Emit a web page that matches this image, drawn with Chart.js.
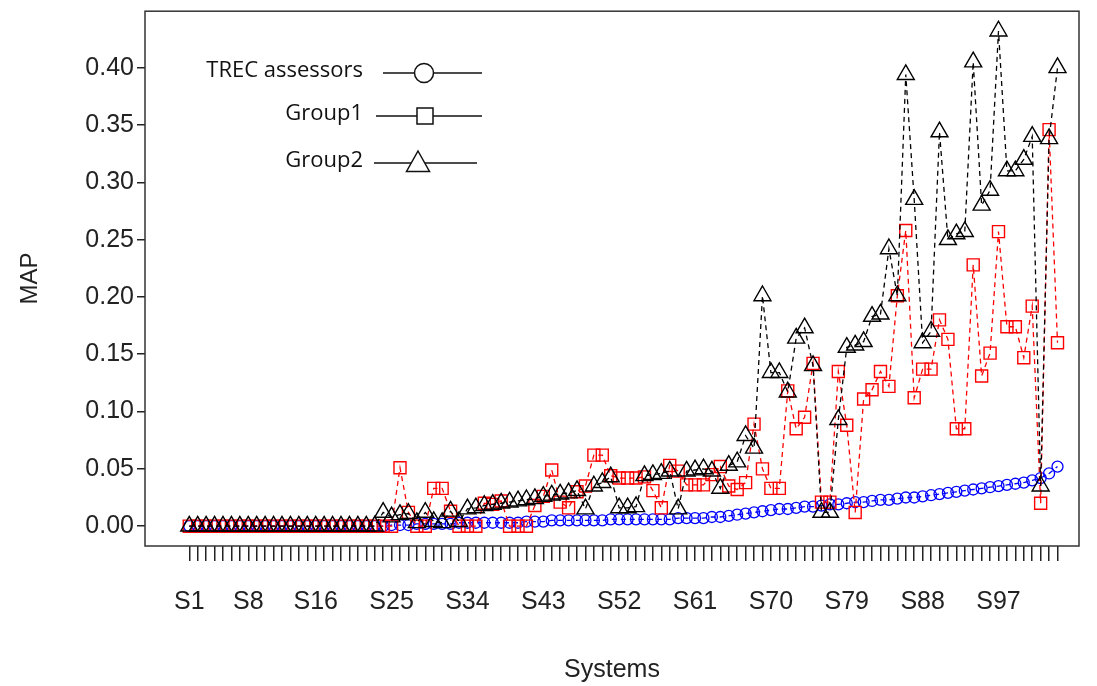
<!DOCTYPE html>
<html>
<head>
<meta charset="utf-8">
<script src="https://cdn.jsdelivr.net/npm/chart.js@4.4.1/dist/chart.umd.min.js"></script>
<style>
  body { margin: 0; background: #fff; }
  #wrap { width: 1097px; height: 686px; }
</style>
</head>
<body>
<div id="wrap"><canvas id="grafico"></canvas></div>
<script>
// --- DADOS ---
const sistemas = [];
for (let i = 1; i <= 104; i++) sistemas.push('S' + i);

// rótulos que aparecem no eixo x (os outros ficam só com o traço)
const rotulosX = ['S1', 'S8', 'S16', 'S25', 'S34', 'S43', 'S52', 'S61', 'S70', 'S79', 'S88', 'S97'];
const ticksY = [0, 0.05, 0.10, 0.15, 0.20, 0.25, 0.30, 0.35, 0.40];

const nomesSeries = ['TREC assessors', 'Group1', 'Group2'];

const trec = [
  0, 0, 0, 0, 0, 0, 0, 0, 0, 0, 0, 0, 0, 0, 0, 0, 0, 0, 0, 0, 0, 0, 0, 0,
  0.001, 0.001, 0.001, 0.002, 0.002, 0.002, 0.002, 0.002, 0.003,
  0.003, 0.003, 0.003, 0.003, 0.003, 0.003, 0.003, 0.004, 0.004, 0.004,
  0.005, 0.005, 0.005, 0.005, 0.005, 0.005, 0.005, 0.006, 0.006,
  0.006, 0.006, 0.006, 0.006, 0.006, 0.006, 0.007, 0.007,
  0.007, 0.007, 0.008, 0.008, 0.009, 0.010, 0.011, 0.012, 0.013, 0.014,
  0.015, 0.015, 0.016, 0.017, 0.017, 0.018, 0.019, 0.019, 0.020, 0.021,
  0.021, 0.022, 0.023, 0.023, 0.024, 0.025, 0.025, 0.026, 0.027, 0.028,
  0.029, 0.030, 0.031, 0.032, 0.033, 0.034, 0.035, 0.036, 0.037, 0.038,
  0.040, 0.042, 0.046, 0.052
];

const grupo1 = [
  0, 0, 0, 0, 0, 0, 0, 0, 0, 0, 0, 0, 0, 0, 0, 0, 0, 0, 0, 0, 0, 0, 0, 0,
  0, 0.051, 0.012, 0, 0, 0.033, 0.033, 0.013, 0,
  0, 0, 0.020, 0.019, 0.022, 0, 0, 0, 0.018, 0.026,
  0.049, 0.021, 0.016, 0.030, 0.035, 0.062, 0.062, 0.044, 0.042,
  0.042, 0.042, 0.043, 0.031, 0.016, 0.053, 0.048, 0.036,
  0.036, 0.036, 0.045, 0.052, 0.035, 0.032, 0.038, 0.089, 0.050, 0.033,
  0.033, 0.118, 0.085, 0.095, 0.142, 0.021, 0.021, 0.135, 0.088, 0.012,
  0.111, 0.119, 0.135, 0.122, 0.201, 0.258, 0.112, 0.137, 0.137, 0.180,
  0.163, 0.085, 0.085, 0.228, 0.131, 0.151, 0.257, 0.174, 0.174, 0.147,
  0.192, 0.020, 0.346, 0.160
];

const grupo2 = [
  0, 0, 0, 0, 0, 0, 0, 0, 0, 0, 0, 0, 0, 0, 0, 0, 0, 0, 0, 0, 0, 0, 0,
  0.012, 0.008, 0.010, 0.011, 0.003, 0.012, 0.004, 0.003, 0.013, 0.004,
  0.015, 0.016, 0.018, 0.019, 0.020, 0.021, 0.022, 0.023, 0.024, 0.026,
  0.027, 0.028, 0.029, 0.031, 0.015, 0.035, 0.038, 0.043, 0.016,
  0.016, 0.017, 0.044, 0.045, 0.046, 0.048, 0.015, 0.048,
  0.049, 0.050, 0.048, 0.033, 0.053, 0.056, 0.079, 0.068, 0.201, 0.134,
  0.134, 0.117, 0.164, 0.173, 0.140, 0.012, 0.012, 0.093, 0.156, 0.158,
  0.161, 0.183, 0.185, 0.242, 0.201, 0.394, 0.285, 0.160, 0.170, 0.344,
  0.250, 0.255, 0.257, 0.405, 0.280, 0.293, 0.432, 0.310, 0.310, 0.320,
  0.340, 0.035, 0.338, 0.400
];

// --- ESTILO ---
const FONTE_EIXO = 'Liberation Sans, Arial, sans-serif';
const FONTE_LEGENDA = '"Open Sans", Lato, sans-serif';
const TRACO = [5, 4];

function pontos(valores) {
  return valores.map((v, i) => ({ x: i + 1, y: v }));
}

// caixa em volta da área do gráfico (estilo R)
const caixaPlot = {
  id: 'caixaPlot',
  afterDraw(chart) {
    const { ctx, chartArea: a } = chart;
    ctx.save();
    ctx.strokeStyle = '#333';
    ctx.lineWidth = 1.5;
    ctx.strokeRect(a.left, a.top, a.right - a.left, a.bottom - a.top);
    ctx.restore();
  }
};

// legenda desenhada dentro do gráfico, no canto superior esquerdo
const legendaR = {
  id: 'legendaR',
  afterDraw(chart) {
    const ctx = chart.ctx;
    const linhas = [
      { y: 73, x1: 383, x2: 482, mx: 424, textoY: 77, simbolo: 'circulo' },
      { y: 116, x1: 376, x2: 482, mx: 425, textoY: 120, simbolo: 'quadrado' },
      { y: 163, x1: 374, x2: 477, mx: 418, textoY: 167, simbolo: 'triangulo' }
    ];
    ctx.save();
    ctx.font = '22px ' + FONTE_LEGENDA;
    ctx.textAlign = 'right';
    ctx.textBaseline = 'alphabetic';
    ctx.fillStyle = '#111';
    ctx.strokeStyle = '#111';
    ctx.lineWidth = 1.5;
    linhas.forEach((l, i) => {
      ctx.fillText(nomesSeries[i], 363, l.textoY);
      ctx.beginPath();
      ctx.moveTo(l.x1, l.y);
      ctx.lineTo(l.x2, l.y);
      ctx.stroke();
      ctx.fillStyle = '#fff';
      ctx.beginPath();
      if (l.simbolo === 'circulo') {
        ctx.arc(l.mx, l.y, 9.5, 0, Math.PI * 2);
      } else if (l.simbolo === 'quadrado') {
        ctx.rect(l.mx - 8, l.y - 8, 16, 16);
      } else {
        ctx.moveTo(l.mx, l.y - 12);
        ctx.lineTo(l.mx + 11.5, l.y + 8.5);
        ctx.lineTo(l.mx - 11.5, l.y + 8.5);
        ctx.closePath();
      }
      ctx.fill();
      ctx.stroke();
      ctx.fillStyle = '#111';
    });
    ctx.restore();
  }
};

// tira o espaço extra que o Chart.js reserva para os rótulos das pontas
function semFolga(axis) {
  axis.paddingTop = 0;
  axis.paddingBottom = 0;
  axis.paddingLeft = 0;
  axis.paddingRight = 0;
}

// --- GRÁFICO ---
const ctx = document.getElementById('grafico').getContext('2d');
new Chart(ctx, {
  type: 'line',
  data: {
    datasets: [
      {
        label: nomesSeries[0], data: pontos(trec), order: 3,
        borderColor: '#0000ff', borderWidth: 1.3, borderDash: TRACO,
        pointStyle: 'circle', pointRadius: 5.5, pointBorderWidth: 1.3,
        pointBorderColor: '#0000ff', pointBackgroundColor: 'rgba(0,0,0,0)'
      },
      {
        label: nomesSeries[1], data: pontos(grupo1), order: 2,
        borderColor: '#ff0000', borderWidth: 1.3, borderDash: TRACO,
        pointStyle: 'rect', pointRadius: 8.5, pointBorderWidth: 1.4,
        pointBorderColor: '#ff0000', pointBackgroundColor: 'rgba(0,0,0,0)'
      },
      {
        label: nomesSeries[2], data: pontos(grupo2), order: 1,
        borderColor: '#000', borderWidth: 1.3, borderDash: TRACO,
        pointStyle: 'triangle', pointRadius: 9.8, pointBorderWidth: 1.4,
        pointBorderColor: '#000', pointBackgroundColor: 'rgba(0,0,0,0)'
      }
    ]
  },
  options: {
    responsive: true,
    maintainAspectRatio: false,
    animation: false,
    devicePixelRatio: 1,
    layout: { padding: { top: 10, right: 18, bottom: 0, left: 0 } },
    plugins: { legend: { display: false }, tooltip: { enabled: false } },
    elements: { line: { tension: 0, fill: false } },
    scales: {
      x: {
        type: 'linear',
        min: -4.25,
        max: 106.55,
        afterBuildTicks: axis => { axis.ticks = sistemas.map((s, i) => ({ value: i + 1 })); },
        afterFit: axis => { axis.height = 140; semFolga(axis); },
        grid: { drawOnChartArea: false, drawTicks: true, tickLength: 15, color: '#222', lineWidth: 1.5 },
        border: { display: false },
        ticks: {
          autoSkip: false, maxRotation: 0, minRotation: 0, padding: 26,
          color: '#222', font: { family: FONTE_EIXO, size: 25 },
          callback: v => (rotulosX.includes(sistemas[v - 1]) ? sistemas[v - 1] : '')
        },
        title: {
          display: true, text: 'Systems', color: '#222',
          font: { family: FONTE_EIXO, size: 25 }, padding: { top: 0, bottom: 1 }
        }
      },
      y: {
        min: -0.0173,
        max: 0.4493,
        afterBuildTicks: axis => { axis.ticks = ticksY.map(v => ({ value: v })); },
        afterFit: axis => { axis.width = 145; semFolga(axis); },
        grid: { drawOnChartArea: false, drawTicks: true, tickLength: 8, color: '#222', lineWidth: 1.5 },
        border: { display: false },
        ticks: {
          padding: 3, color: '#222', font: { family: FONTE_EIXO, size: 25 },
          callback: v => v.toFixed(2)
        },
        title: {
          display: true, text: 'MAP', color: '#222',
          font: { family: FONTE_EIXO, size: 24 }, padding: { top: 16, bottom: 0 }
        }
      }
    }
  },
  plugins: [caixaPlot, legendaR]
});
</script>
</body>
</html>
